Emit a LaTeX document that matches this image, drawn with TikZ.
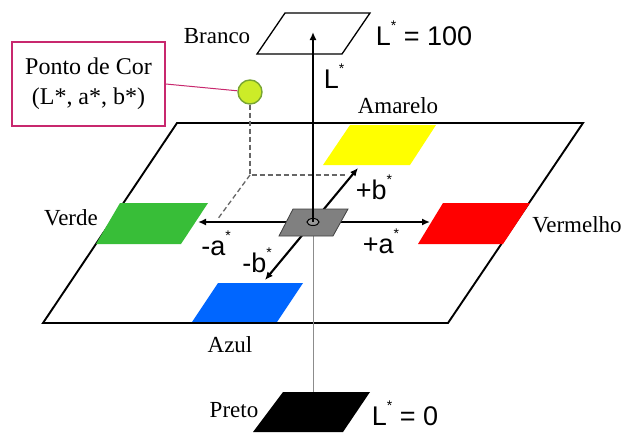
\documentclass[tikz,border=0pt]{standalone}
\usepackage{fontspec}
\setmainfont{Liberation Serif}
\newfontfamily\arial{Liberation Sans}
\usetikzlibrary{arrows.meta}
\definecolor{pinkline}{RGB}{200,40,110}
\definecolor{ptfill}{RGB}{204,236,40}
\definecolor{ptline}{RGB}{120,165,50}
\definecolor{grn}{RGB}{56,190,56}
\definecolor{blu}{RGB}{0,102,255}
\definecolor{yel}{RGB}{255,255,0}
\definecolor{rd}{RGB}{255,0,0}
\newcommand{\sstar}{\raisebox{0.55em}{\fontsize{14}{14}\selectfont *}}
\begin{document}
\begin{tikzpicture}[x=1pt,y=-1pt,
  serif/.style={font=\fontsize{23}{25}\selectfont, inner sep=0pt},
  sans/.style={font=\arial\fontsize{27}{29}\selectfont, inner sep=0pt},
  plane/.style={draw=black, line width=1.9pt, line join=miter},
  axis/.style={line width=2.1pt, draw=black},
  tip/.style={-{Latex[length=8pt,width=7pt]}},
  guide/.style={draw=black!60, line width=1.3pt, dash pattern=on 5pt off 3pt},
  thin/.style={draw=black!45, line width=0.7pt}]
\useasboundingbox (0,0) rectangle (627,432);
\fill[white] (0,0) rectangle (627,432);

% large a*b* plane
\draw[plane] (177,123) -- (583,123) -- (448,323) -- (43,323) -- cycle;

% colour patches
\fill[yel] (350,125) -- (436,125) -- (410,165) -- (323,165) -- cycle;
\fill[grn] (120,203) -- (208,203) -- (181,244) -- (96,244) -- cycle;
\fill[rd]  (443,203) -- (530,203) -- (503,244) -- (418,244) -- cycle;
\fill[blu] (218,283) -- (303,283) -- (277,322) -- (192,322) -- cycle;
\draw[plane] (43,323) -- (448,323);

% white / black patches
\draw[line width=1.3pt, fill=white] (257,54) -- (285,13) -- (370,13) -- (342,54) -- cycle;
\fill[black] (283,392) -- (370,392) -- (343,432) -- (253,432) -- cycle;

% thin vertical reference line
\coordinate (o) at (313,222);
\coordinate (bot) at (313,392);
\draw[thin] (o) -- (bot);

% colour point and projections
\node[circle, minimum size=24pt, inner sep=0pt, fill=ptfill, draw=ptline, line width=1.4pt] (pc) at (250,92) {};
\coordinate (pf) at (250,175);
\coordinate (pr) at (347,175);
\coordinate (pl) at (217,220);
\draw[guide] (pc.south) -- (pf) -- (pr);
\draw[guide] (pf) -- (pl);

% a* and b* axes
\coordinate (aneg) at (198,222);
\coordinate (apos) at (430,222);
\coordinate (bneg) at (265,280);
\coordinate (bpos) at (358,168);
\draw[axis, {Latex[length=8pt,width=7pt]}-{Latex[length=8pt,width=7pt]}] (aneg) -- (apos);
\draw[axis, {Latex[length=8pt,width=7pt]}-{Latex[length=8pt,width=7pt]}] (bneg) -- (bpos);

% central grey square
\draw[fill=black!50, draw=black!75, line width=0.8pt] (293,209) -- (348,209) -- (333,236) -- (279,236) -- cycle;
\draw[fill=black!40, line width=1pt] (o) ellipse [x radius=6, y radius=3.5];

% L* axis
\coordinate (ltop) at (313,32);
\draw[axis, tip] (o) -- (ltop);

% callout box
\node[draw=pinkline, line width=1.4pt, minimum width=153pt, minimum height=84pt, align=center,
      font=\fontsize{24}{30}\selectfont, inner sep=2pt] (pb) at (88.5,84) {Ponto de Cor\\(L*, a*, b*)};
\draw[pinkline, line width=1pt] (pb.east) -- (pc);

% labels
\node[serif] (branco) at (217,36) {Branco};
\node[sans] (l100) at (424,33) {L\sstar{} = 100};
\node[sans] (lstar) at (334,76) {L\sstar};
\node[serif] (amarelo) at (398,106) {Amarelo};
\node[serif] (verde) at (71,218) {Verde};
\node[serif] (vermelho) at (577,225) {Vermelho};
\node[serif] (azul) at (230,345) {Azul};
\node[serif] (preto) at (234,410) {Preto};
\node[sans] (l0) at (405,413) {L\sstar{} = 0};
\node[sans] (am) at (216,243) {-a\sstar};
\node[sans] (bm) at (257,260) {-b\sstar};
\node[sans] (bp) at (374,187) {+b\sstar};
\node[sans] (ap) at (381,241) {+a\sstar};
\end{tikzpicture}
\end{document}
